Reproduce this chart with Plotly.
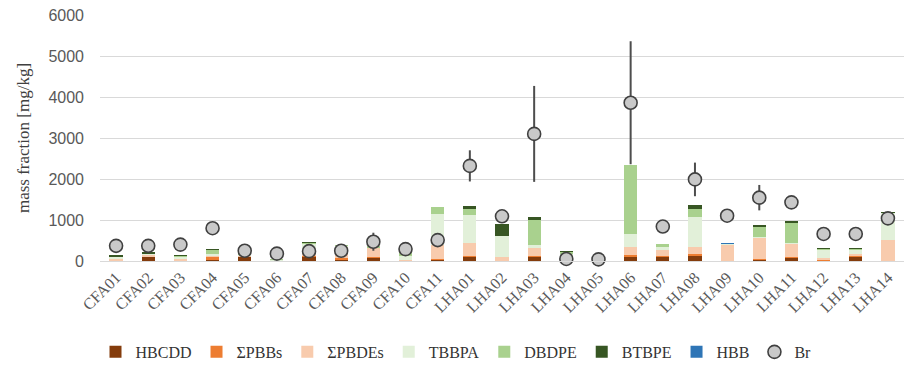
import plotly.graph_objects as go

# Samples: fly ash (CFA) and landfill/hazardous ash (LHA)
samples = ["CFA01", "CFA02", "CFA03", "CFA04", "CFA05", "CFA06", "CFA07", "CFA08",
           "CFA09", "CFA10", "CFA11", "LHA01", "LHA02", "LHA03", "LHA04", "LHA05",
           "LHA06", "LHA07", "LHA08", "LHA09", "LHA10", "LHA11", "LHA12", "LHA13", "LHA14"]

# Brominated flame retardant mass fractions [mg/kg]
hbcdd = [15, 100, 15, 30, 110, 5, 110, 40, 80, 10, 30,
         100, 10, 110, 5, 5, 90, 100, 110, 10, 30, 80, 20, 110, 10]
pbbs = [0, 20, 0, 60, 10, 0, 20, 30, 20, 0, 30,
        10, 0, 10, 0, 0, 50, 10, 50, 0, 30, 10, 10, 20, 0]
pbdes = [40, 30, 40, 50, 20, 10, 40, 280, 230, 20, 330,
         320, 90, 220, 20, 5, 210, 160, 190, 390, 510, 340, 50, 40, 500]
tbbpa = [55, 30, 60, 30, 10, 10, 250, 20, 10, 80, 750,
         690, 520, 40, 140, 5, 300, 60, 715, 20, 10, 20, 190, 100, 670]
dbdpe = [10, 15, 15, 110, 5, 5, 30, 10, 5, 180, 185,
         150, 0, 620, 60, 5, 1690, 77, 195, 0, 270, 500, 30, 30, 5]
btbpe = [10, 5, 10, 5, 0, 0, 10, 0, 0, 0, 0,
         70, 275, 70, 5, 0, 0, 0, 100, 5, 10, 10, 10, 10, 5]
hbb = [0, 0, 0, 0, 0, 0, 0, 0, 0, 0, 0,
       0, 0, 0, 0, 0, 0, 0, 0, 3, 0, 0, 0, 0, 0]

# Total bromine and its uncertainty [mg/kg]
br = [370, 370, 400, 800, 250, 180, 240, 250, 470, 290, 510,
      2320, 1090, 3100, 50, 40, 3860, 840, 1990, 1105, 1545, 1430, 660, 660, 1040]
br_err = [0, 0, 0, 0, 0, 0, 0, 0, 220, 0, 0,
          380, 0, 1170, 0, 0, 1500, 0, 410, 0, 310, 0, 0, 0, 0]

series = [
    ("HBCDD", hbcdd, "#843C0C"),
    ("\u03a3PBBs", pbbs, "#ED7D31"),
    ("\u03a3PBDEs", pbdes, "#F8CBAD"),
    ("TBBPA", tbbpa, "#E2F0D9"),
    ("DBDPE", dbdpe, "#A9D18E"),
    ("BTBPE", btbpe, "#375623"),
    ("HBB", hbb, "#2E75B6"),
]

serif = "Liberation Serif"

fig = go.Figure()
for name, vals, color in series:
    fig.add_trace(go.Bar(x=samples, y=vals, name=name, marker_color=color,
                         marker_line_width=0))

fig.add_trace(go.Scatter(
    x=samples, y=br, name="Br", mode="markers", cliponaxis=False,
    marker=dict(symbol="circle", size=13, color="#C9C9C9",
                line=dict(color="#404040", width=1.6)),
    error_y=dict(type="data", array=br_err, visible=True,
                 color="#4D4D4D", thickness=2, width=0),
))

fig.update_layout(
    width=912, height=367,
    margin=dict(l=100, r=8, t=15, b=106, autoexpand=False),
    barmode="stack", bargap=0.59,
    plot_bgcolor="white", paper_bgcolor="white",
    showlegend=True,
    legend=dict(orientation="h", xref="container", yref="container",
                x=0.5, xanchor="center", y=0.041, yanchor="middle",
                font=dict(family=serif, size=16, color="#333333"),
                itemwidth=30, tracegroupgap=0, traceorder="normal"),
    xaxis=dict(range=[-0.5, len(samples) - 0.5],
               tickangle=-45, tickfont=dict(family=serif, size=16, color="#595959"),
               showline=True, linecolor="#D9D9D9", linewidth=1, ticks="",
               showgrid=False, automargin=False),
    yaxis=dict(range=[0, 6000], dtick=1000, showgrid=True, gridcolor="#D9D9D9",
               gridwidth=1, zeroline=False, ticks="", automargin=False,
               tickfont=dict(family="Liberation Sans", size=16, color="#595959"),
               ticklabelstandoff=15,
               title=dict(text="mass fraction [mg/kg]", standoff=14,
                          font=dict(family=serif, size=17, color="#404040"))),
)

fig.write_html("out.html")
